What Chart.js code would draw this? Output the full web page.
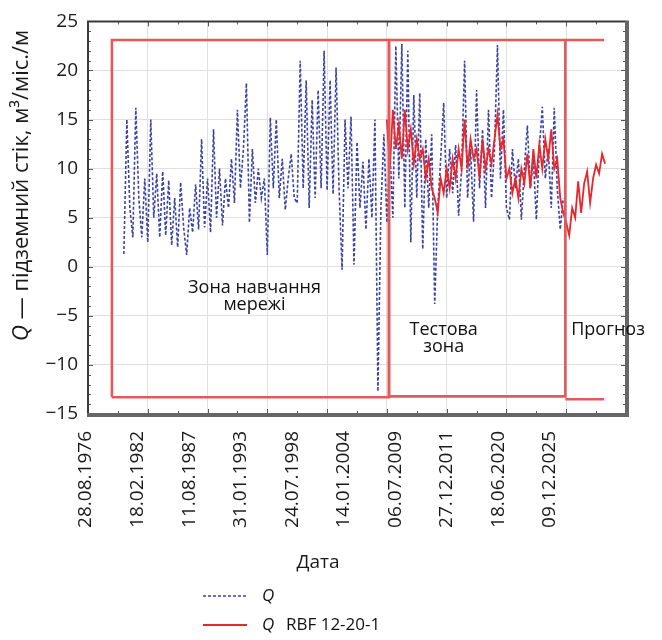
<!DOCTYPE html>
<html><head><meta charset="utf-8">
<script src="https://cdn.jsdelivr.net/npm/chart.js@4/dist/chart.umd.min.js"></script>
<style>html,body{margin:0;padding:0;background:#fff}#wrap{width:662px;height:640px}</style>
</head><body><div id="wrap"><canvas id="c" width="662" height="640"></canvas></div>
<script>
// ---- data (x in quarter steps) ----
const dateLabels = ["28.08.1976","18.02.1982","11.08.1987","31.01.1993","24.07.1998","14.01.2004","06.07.2009","27.12.2011","18.06.2020","09.12.2025"];
const qStart = 12;
const qValues = [1.3,15,6,3,16.2,7,3,9,2.5,15,5,9.5,3,9.7,3.2,8.8,2.2,7,2,8.6,4,1.2,6,3.5,8.4,3.8,13,4,9,3.5,
  14,5,10,4.2,9,6,11,6.5,16,8,12,18.7,4.5,12,6.5,10,7,9,1.2,15.2,8,15,7,11,5.8,9,11.5,7,6.5,21,
  8,19,6,17,7,18,8,22,7.8,19,7.4,20.3,8,-0.3,15,8,15.3,0.2,12.7,6,10.7,3.8,11,5,15,-12.7,6,13.5,4.5,12,
  5,22.5,9,22.7,6,22,2.5,17.5,7,17.7,1.8,13,6,13.5,-3.8,6,11,16.7,7,12,7.5,12.4,5.2,10,21,7,12,4.6,18,8,
  14,6,16,7,12,22.6,9,16,6,4.8,12,8,11,4.8,10,14.4,8,11,4.8,12,16.3,9,12,6,16.2,8,3.8,7];
const rbfStart = 100;
const rbfValues = [15,10,16,12,14.5,11,16,12,14,10.5,13,11,12,9,11,8,7,5.5,9,7.5,10,8,11,9,12,10,15,10,13,11,
  12,9,13,10,12,10.5,13,15.5,12,13,9,10,7.5,9,7,10,8.5,11.5,8,12,9,12.5,10,13,11,14,10,11,7,5.5,
  4.5,3.2,6,5,8.7,5.5,8.5,9.7,6.5,9,10.4,9.5,11.5,10.5];
const zoneEdges = [8, 100.7, 159.7, 172.7];
const zoneTop = 23.1;
const zoneBottoms = [-13.3, -13.2, -13.5];
const zoneNames = [["Зона навчання","мережі"],["Тестова","зона"],["Прогноз"]];
const zoneLabelX = [55.7, 119, 174];
const zoneLabelY = [-2.2, -6.4, -6.4];
const seriesNames = ["Q", "Q RBF 12-20-1"];

const FONT = "'Open Sans', 'Noto Sans', sans-serif";
Chart.defaults.font.family = FONT;
Chart.defaults.color = '#1a1a1a';

const pts = (arr) => arr.map(p => ({x: p[0], y: p[1]}));
const [e0,e1,e2,e3] = zoneEdges;
const rectColor = '#e35a5a';

const datasets = [
  {label:'zone1', data: pts([[e0,zoneBottoms[0]],[e0,zoneTop],[e1,zoneTop],[e1,zoneBottoms[0]],[e0,zoneBottoms[0]]]),
   borderColor: rectColor, borderWidth: 2.6, pointRadius: 0, order: 0, fill:false},
  {label:'zone2', data: pts([[e1,zoneBottoms[1]],[e1,zoneTop],[e2,zoneTop],[e2,zoneBottoms[1]],[e1,zoneBottoms[1]]]),
   borderColor: rectColor, borderWidth: 2.6, pointRadius: 0, order: 0, fill:false},
  {label:'zone3', data: [{x:e2,y:zoneTop},{x:e3,y:zoneTop},{x:(e2+e3)/2,y:null},{x:e2,y:zoneBottoms[2]},{x:e3,y:zoneBottoms[2]}],
   borderColor: rectColor, borderWidth: 2.6, pointRadius: 0, order: 0, fill:false, spanGaps:false},
  {label: seriesNames[1], data: rbfValues.map((v,i)=>({x: rbfStart+i, y: v})),
   borderColor: '#e8262c', borderWidth: 1.8, pointRadius: 0, order: 1, tension: 0},
  {label: seriesNames[0], data: qValues.map((v,i)=>({x: qStart+i, y: v})),
   borderColor: '#3b42a0', borderWidth: 1.6, borderDash:[3,2], pointRadius: 0, order: 2, tension: 0},
];

const decor = {
  id: 'decor',
  afterDraw(chart) {
    const ctx = chart.ctx, a = chart.chartArea;
    const xs = chart.scales.x, ys = chart.scales.y, xl = chart.scales.xLab;
    ctx.save();
    // inward minor ticks
    ctx.strokeStyle = '#555'; ctx.lineWidth = 1;
    for (let v = ys.min; v <= ys.max; v += 1) {
      const py = Math.round(ys.getPixelForValue(v)) + 0.5;
      const len = (v % 5 === 0) ? 5 : 3;
      ctx.beginPath(); ctx.moveTo(a.left, py); ctx.lineTo(a.left + len, py);
      ctx.moveTo(a.right, py); ctx.lineTo(a.right - len, py); ctx.stroke();
    }
    for (let v = xs.min; v <= xs.max; v += 10) {
      const px = Math.round(xs.getPixelForValue(v)) + 0.5;
      const len = (v % 20 === 0) ? 5 : 3;
      ctx.beginPath(); ctx.moveTo(px, a.top); ctx.lineTo(px, a.top + len);
      ctx.moveTo(px, a.bottom); ctx.lineTo(px, a.bottom - len); ctx.stroke();
    }
    // frame
    ctx.strokeStyle = '#3a3a3a'; ctx.lineWidth = 2;
    ctx.beginPath(); ctx.moveTo(a.left, a.bottom); ctx.lineTo(a.left, a.top); ctx.lineTo(a.right, a.top); ctx.stroke();
    ctx.strokeStyle = '#666'; ctx.lineWidth = 4;
    ctx.beginPath(); ctx.moveTo(a.left - 1, a.bottom + 1); ctx.lineTo(a.right + 1, a.bottom + 1); ctx.lineTo(a.right + 1, a.top - 1); ctx.stroke();

    // zone annotations
    ctx.fillStyle = '#111'; ctx.font = '18px ' + FONT; ctx.textAlign = 'center'; ctx.textBaseline = 'middle';
    zoneNames.forEach((lines, i) => {
      const px = xs.getPixelForValue(zoneLabelX[i]);
      const py = ys.getPixelForValue(zoneLabelY[i]);
      lines.forEach((t, k) => ctx.fillText(t, px, py + k * 17));
    });

    // x title
    ctx.font = '19px ' + FONT; ctx.fillStyle = '#1a1a1a';
    ctx.fillText('Дата', xl.getPixelForValue(4.5), a.bottom + 149);

    // y title (Q italic)
    const q = 'Q', rest = ' — підземний стік, м³/міс./м';
    ctx.translate(22, ys.getPixelForValue(8.3));
    ctx.rotate(-Math.PI / 2);
    ctx.font = 'italic 22px ' + FONT; const wq = ctx.measureText(q).width;
    ctx.font = '22px ' + FONT; const wr = ctx.measureText(rest).width;
    const x0 = -(wq + wr) / 2;
    ctx.textAlign = 'left';
    ctx.font = 'italic 22px ' + FONT; ctx.fillText(q, x0, 0);
    ctx.font = '22px ' + FONT; ctx.fillText(rest, x0 + wq, 0);
    ctx.setTransform(1,0,0,1,0,0);

    // legend
    const legendItems = [chart.data.datasets[4], chart.data.datasets[3]];
    legendItems.forEach((ds, i) => {
      const y = 596 + i * 29;
      ctx.strokeStyle = ds.borderColor; ctx.lineWidth = i === 0 ? 1.5 : 2;
      ctx.setLineDash(ds.borderDash || []);
      ctx.beginPath(); ctx.moveTo(203, y); ctx.lineTo(247, y); ctx.stroke();
      ctx.setLineDash([]);
      ctx.fillStyle = '#111'; ctx.textAlign = 'left'; ctx.textBaseline = 'middle';
      const parts = ds.label.split(' ');
      ctx.font = 'italic 17px ' + FONT; ctx.fillText(parts[0], 262, y);
      if (parts.length > 1) { ctx.font = '17px ' + FONT; ctx.fillText(parts.slice(1).join(' '), 286, y); }
    });
    ctx.restore();
  }
};

new Chart(document.getElementById('c'), {
  type: 'line',
  data: { datasets },
  options: {
    responsive: false, animation: false, devicePixelRatio: 1,
    layout: { padding: { top: 14, right: 36, left: 0, bottom: 0 } },
    plugins: { legend: { display: false }, tooltip: { enabled: false } },
    scales: {
      x: { type: 'linear', min: 0, max: 180, position: 'bottom', weight: 0,
           ticks: { display: false, stepSize: 20 },
           grid: { color: '#e0e0e0', lineWidth: 1, drawTicks: false },
           border: { display: false },
           afterFit: (s) => { s.height = 0; } },
      xLab: { type: 'linear', min: 0.039, max: 10.473, position: 'bottom', weight: 1,
           afterBuildTicks: (s) => { s.ticks = dateLabels.map((_, i) => ({ value: i })); },
           ticks: { autoSkip: false, maxRotation: 90, minRotation: 90, padding: 17,
                    font: { size: 19 }, color: '#1a1a1a',
                    callback: (v) => dateLabels[v] ?? '' },
           grid: { display: false, drawTicks: false }, border: { display: false },
           afterFit: (s) => { s.height = 226; } },
      y: { min: -15, max: 25,
           ticks: { stepSize: 5, padding: 10, font: { size: 19 }, color: '#1a1a1a',
                    callback: (v) => String(v).replace('-', '\u2212') },
           grid: { color: '#e0e0e0', lineWidth: 1, drawTicks: false },
           border: { display: false },
           afterFit: (s) => { s.width = 88; } }
    }
  },
  plugins: [decor]
});
</script></body></html>
